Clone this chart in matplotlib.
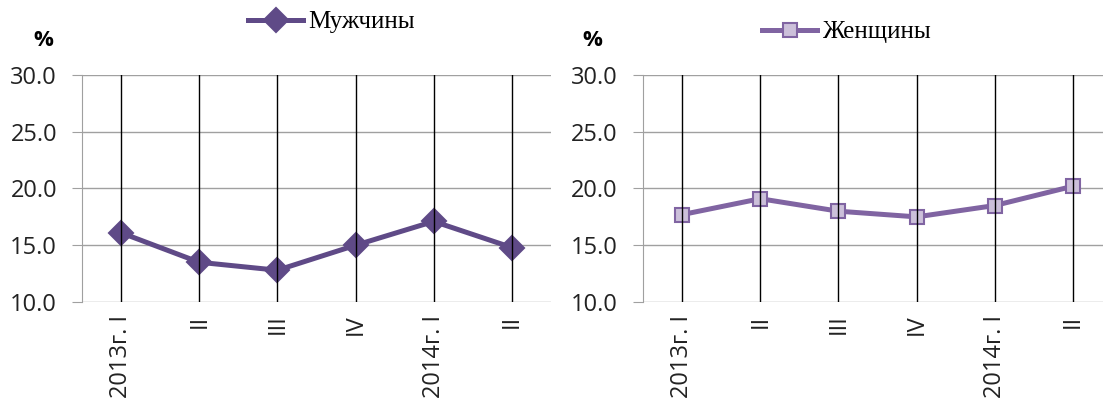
# Two quarterly line charts: men / women, %

import numpy as np
import matplotlib.pyplot as plt

# data
quarters = ['2013г. I', 'II', 'III', 'IV', '2014г. I', 'II']
men = [16.1, 13.5, 12.8, 15.0, 17.1, 14.8]
women = [17.7, 19.1, 18.0, 17.5, 18.5, 20.2]
y_ticks = [10.0, 15.0, 20.0, 25.0, 30.0]

W, H = 1103, 404
fig = plt.figure(figsize=(W / 100, H / 100), dpi=100)

def draw_panel(left_px, vals, name, color, mface, marker, msize, pct_x, leg_xy):
    ax = fig.add_axes([left_px / W, 1 - 302 / H, 469 / W, 227 / H])
    x = np.arange(len(quarters))
    ax.plot(x, vals, color=color, lw=3.6, marker=marker, ms=msize,
            mfc=mface, mec=color, mew=1.5, zorder=3, label=name)
    for xi in x:
        ax.axvline(xi, color='black', lw=1, zorder=4)
    ax.set_xlim(-0.5, 5.5)
    ax.set_ylim(10, 30)
    ax.set_yticks(y_ticks)
    ax.set_yticklabels(['%.1f' % t for t in y_ticks], fontsize=17, color='#222222',
                       family='Open Sans')
    ax.yaxis.grid(True, color='#a0a0a0', lw=1)
    ax.set_axisbelow(True)
    ax.set_xticks(x)
    ax.set_xticklabels(quarters, rotation=90, fontsize=17, color='#222222',
                       family='Open Sans', va='top')
    ax.tick_params(axis='x', length=0, pad=9)
    ax.tick_params(axis='y', length=7, color='#a0a0a0', pad=11)
    for s in ['top', 'right', 'bottom']:
        ax.spines[s].set_visible(False)
    ax.spines['left'].set_color('#a0a0a0')
    fig.text(pct_x / W, 1 - 40 / H, '%', fontsize=16, fontweight='bold',
             family='Open Sans', ha='center', va='center')
    ax.legend(loc='center left', bbox_to_anchor=(leg_xy[0] / W, 1 - leg_xy[1] / H),
              bbox_transform=fig.transFigure, frameon=False,
              borderaxespad=0, borderpad=0,
              prop={'family': 'Liberation Serif', 'size': 18},
              handlelength=2.2, handletextpad=0.2)
    return ax

draw_panel(82, men, 'Мужчины', '#5f4a87', '#5f4a87', 'D', 12, 43, (248, 22))
draw_panel(643, women, 'Женщины', '#8064a2', '#ccc0da', 's', 10.5, 592, (762, 32))

fig.savefig('out.png', dpi=100)
